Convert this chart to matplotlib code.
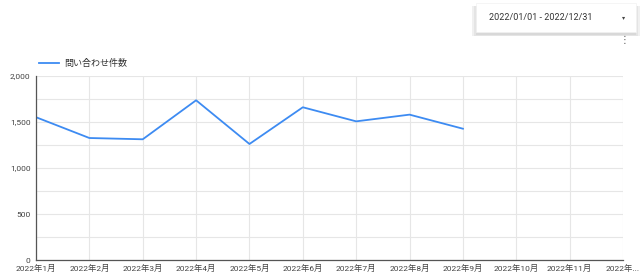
import matplotlib.pyplot as plt
from matplotlib.patches import FancyBboxPatch
import numpy as np

plt.rcParams['font.family'] = ['Roboto', 'Noto Sans CJK JP', 'DejaVu Sans']

months = ['2022年1月', '2022年2月', '2022年3月', '2022年4月', '2022年5月', '2022年6月',
          '2022年7月', '2022年8月', '2022年9月', '2022年10月', '2022年11月', '2022年...']
inquiries = [1552, 1326, 1312, 1736, 1261, 1660, 1507, 1580, 1427]
series_name = '問い合わせ件数'
date_range = '2022/01/01 - 2022/12/31'

fig = plt.figure(figsize=(6.4, 2.8), dpi=100)
ax = fig.add_axes([0.05625, 0.0714, 0.9172, 0.6572])

x = np.arange(len(inquiries))
line, = ax.plot(x, inquiries, color='#3d8bf2', linewidth=1.3, label=series_name)

ax.set_xlim(0, len(months) - 1)
ax.set_ylim(0, 2000)
ax.set_xticks(np.arange(len(months)))
ax.set_xticklabels(months)
ax.set_yticks(np.arange(0, 2001, 500))
ax.set_yticklabels([f'{v:,}' for v in range(0, 2001, 500)])
ax.set_yticks(np.arange(0, 2001, 250), minor=True)
ax.grid(True, which='both', color='#e6e6e6', linewidth=0.8)
ax.set_axisbelow(True)
ax.tick_params(axis='both', which='both', length=0, labelsize=6, colors='#444444')
ax.tick_params(axis='x', pad=3)
ax.tick_params(axis='y', pad=4)
for s in ['top', 'right']:
    ax.spines[s].set_visible(False)
ax.spines['left'].set_color('#555555')
ax.spines['bottom'].set_color('#555555')
ax.spines['left'].set_linewidth(0.9)
ax.spines['bottom'].set_linewidth(0.9)

fig.legend(handles=[line], loc='center left', bbox_to_anchor=(0.048, 0.772),
           frameon=False, fontsize=6.5, handlelength=2.2, handletextpad=0.6,
           labelcolor='#333333')

# date range control box with soft shadow
for i, c in enumerate(['#f0f0f0', '#e4e4e4', '#d8d8d8']):
    d = 0.003 * (2 - i)
    fig.patches.append(FancyBboxPatch((0.744 - d, 0.880 - d - 0.004), 0.25 + 2 * d, 0.103 + d,
                                      boxstyle='square,pad=0', transform=fig.transFigure,
                                      facecolor=c, edgecolor='none'))
fig.patches.append(FancyBboxPatch((0.744, 0.885), 0.25, 0.103, boxstyle='square,pad=0',
                                  transform=fig.transFigure, facecolor='white',
                                  edgecolor='#f2f2f2', linewidth=0.5))
fig.text(0.764, 0.936, date_range, fontsize=6.5, color='#333333', va='center')
fig.text(0.974, 0.936, '▾', fontsize=4.5, color='#444444', va='center', ha='center',
         family=['DejaVu Sans'])
fig.text(0.975, 0.857, '⋮', fontsize=7, color='#555555', va='center', ha='center',
         family=['DejaVu Sans'])

fig.savefig('out.png', dpi=100)
